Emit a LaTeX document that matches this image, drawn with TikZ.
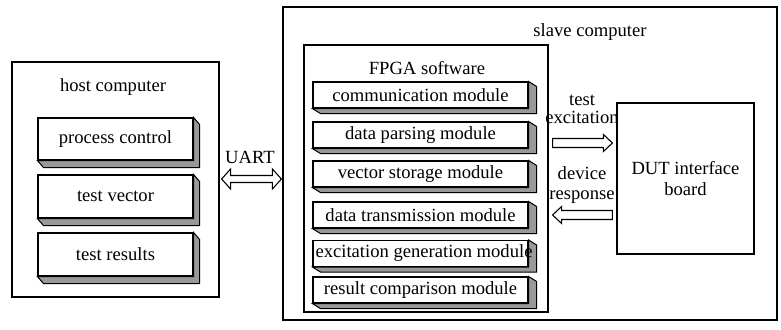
\documentclass[tikz,border=0pt]{standalone}
\usepackage{fontspec}
\setmainfont{Liberation Serif}
\usetikzlibrary{calc}
\tikzset{
  box/.style={draw, line width=1.2pt, inner sep=0pt},
  modbox/.style={draw, fill=white, line width=1.1pt, inner sep=0pt, minimum width=215pt, minimum height=26pt},
  hostmod/.style={draw, fill=white, line width=1.1pt, inner sep=0pt, minimum width=155pt, minimum height=42pt},
  side/.style={fill=black!40, draw, line width=1.0pt, line join=miter},
  label/.style={inner sep=0pt, align=center},
  barrow/.style={draw, fill=white, line width=1.1pt, line join=miter}
}
\newcommand{\depthbox}[3]{% node name, dx, dy
  \draw[side] (#1.north east) -- ++(#2,#3) -- ($(#1.south east)+(#2,#3)$) -- ($(#1.south west)+(#2,#3)$) -- (#1.south west) -- (#1.south east) -- cycle;
}
\begin{document}
\begin{tikzpicture}[x=1pt, y=-1pt, font=\fontsize{18.6}{20}\selectfont]
\useasboundingbox (0,0) rectangle (781,329);
% host computer
\node[box, minimum width=207pt, minimum height=235pt] (host) at (115.5,179.5) {};
\node[label] (hostt) at (113,87) {host computer};
\node[hostmod] (pc) at (115.5,139) {process control};
\node[hostmod, minimum height=43pt] (tv) at (115.5,196.5) {test vector};
\node[hostmod, minimum height=43pt] (tr) at (115.5,254.5) {test results};
\depthbox{pc}{6}{7}
\depthbox{tv}{6}{7}
\depthbox{tr}{6}{7}
% slave computer
\node[box, minimum width=494pt, minimum height=313pt] (slave) at (530,163.5) {};
\node[label] (slavet) at (590,32) {slave computer};
\node[box, minimum width=244pt, minimum height=267pt] (fpga) at (426,178.5) {};
\node[label] (fpgat) at (427,68) {FPGA software};
\node[modbox] (m1) at (420.5,95) {communication module};
\node[modbox] (m2) at (420.5,135) {data parsing module};
\node[modbox] (m3) at (420.5,174) {vector storage module};
\node[modbox] (m4) at (420.5,215) {data transmission module};
\node[modbox] (m5) at (420.5,253.5) {};
\node[modbox] (m6) at (420.5,290) {result comparison module};
\foreach \m in {m1,m2,m3,m4,m5,m6} {\depthbox{\m}{8}{5}}
\node[label] (m5t) at (424,253.5) {excitation generation module};
% DUT
\node[box, minimum width=137pt, minimum height=151pt, align=center, font=\fontsize{18.6}{21}\selectfont] (dut) at (685.5,178.5) {DUT interface\\board};
% UART double arrow
\coordinate (ua) at (host.east |- 0,179);
\coordinate (ub) at (slave.west |- 0,179);
\draw[barrow] ($(ua)+(2,0)$) -- ++(9,-10) -- ++(0,6.5) -- ($(ub)+(-10,-3.5)$) -- ($(ub)+(-10,-10)$) -- ($(ub)+(-1,0)$) -- ($(ub)+(-10,10)$) -- ($(ub)+(-10,3.5)$) -- ($(ua)+(11,3.5)$) -- ($(ua)+(11,10)$) -- cycle;
\node[label] (uart) at (250,157) {UART};
% test excitation arrow
\coordinate (ea) at (fpga.east |- 0,143);
\coordinate (eb) at (dut.west |- 0,143);
\draw[barrow] ($(ea)+(4,-4.5)$) -- ($(eb)+(-13,-4.5)$) -- ($(eb)+(-13,-8.5)$) -- ($(eb)+(-4,0)$) -- ($(eb)+(-13,8.5)$) -- ($(eb)+(-13,4.5)$) -- ($(ea)+(4,4.5)$) -- cycle;
\node[label, font=\fontsize{18.6}{18}\selectfont] (exct) at (582,109) {test\\excitation};
% device response arrow
\coordinate (ra) at (fpga.east |- 0,215);
\coordinate (rb) at (dut.west |- 0,215);
\draw[barrow] ($(rb)+(-4,-4.5)$) -- ($(ra)+(13,-4.5)$) -- ($(ra)+(13,-8.5)$) -- ($(ra)+(4,0)$) -- ($(ra)+(13,8.5)$) -- ($(ra)+(13,4.5)$) -- ($(rb)+(-4,4.5)$) -- cycle;
\node[label, font=\fontsize{18.6}{20}\selectfont] (respt) at (582,185) {device\\response};
\end{tikzpicture}
\end{document}
